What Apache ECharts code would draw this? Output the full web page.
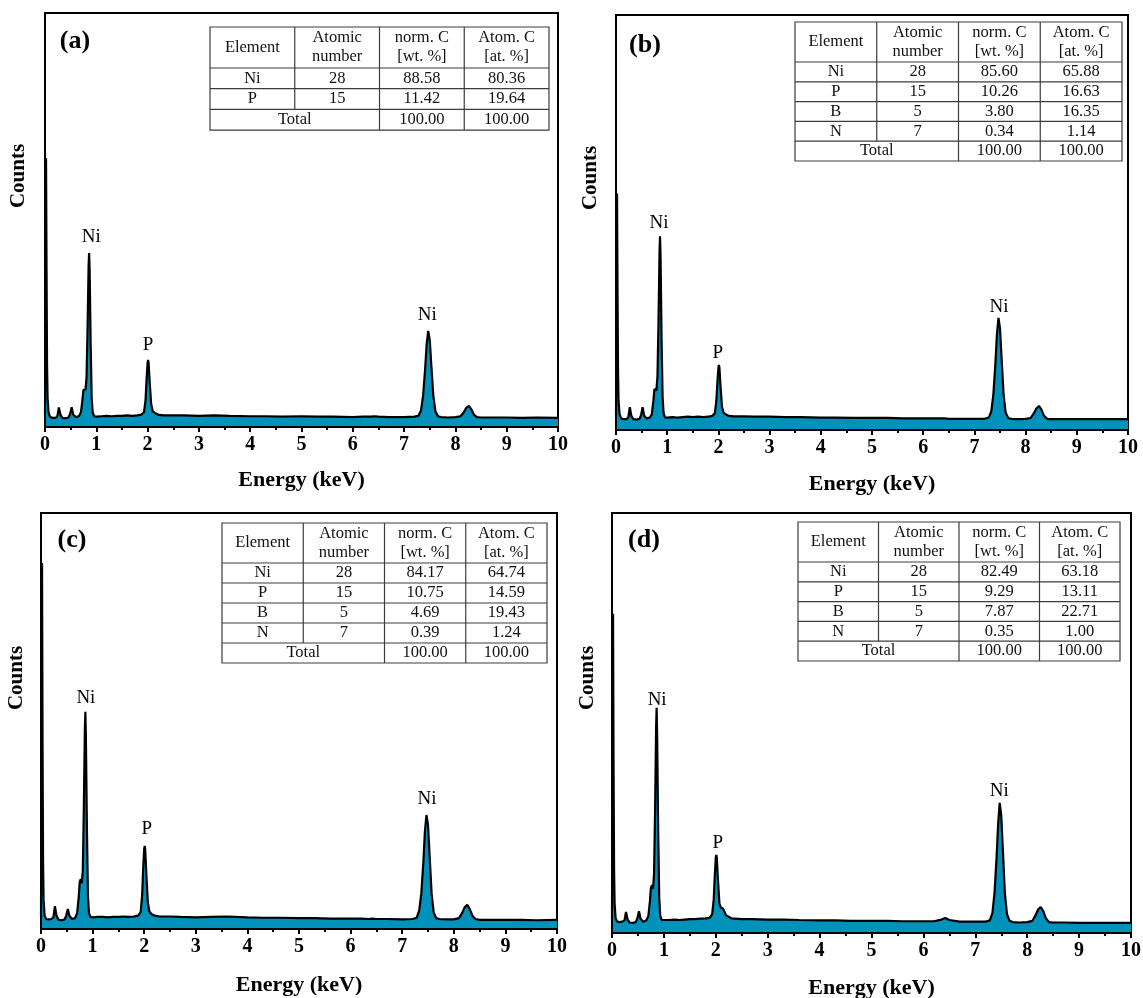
<!DOCTYPE html>
<html>
<head>
<meta charset="utf-8">
<title>EDS spectra</title>
<script src="https://cdn.jsdelivr.net/npm/echarts@6/dist/echarts.min.js"></script>
<style>
  html, body { margin: 0; padding: 0; background: #fff; }
  #main { width: 1143px; height: 998px; }
</style>
</head>
<body>
<div id="main"></div>
<script>
// energy grid shared by the four spectra (keV)
var energy = [
  0, 0.01, 0.02, 0.03, 0.04, 0.05, 0.07, 0.10, 0.15, 0.20,
  0.24, 0.27, 0.30, 0.34, 0.40, 0.46, 0.49, 0.52, 0.55, 0.60,
  0.66, 0.70, 0.73, 0.75, 0.77, 0.79, 0.81, 0.83, 0.85, 0.86,
  0.87, 0.89, 0.91, 0.93, 0.96, 1.00, 1.10, 1.20, 1.30, 1.40,
  1.50, 1.60, 1.70, 1.80, 1.88, 1.93, 1.96, 1.98, 2.00, 2.01,
  2.02, 2.04, 2.07, 2.10, 2.14, 2.20, 2.30, 2.50, 2.70, 3.00,
  3.30, 3.60, 4.00, 4.30, 4.60, 5.00, 5.30, 5.60, 6.00, 6.20,
  6.35, 6.42, 6.50, 6.70, 7.00, 7.20, 7.28, 7.33, 7.37, 7.41,
  7.44, 7.47, 7.50, 7.53, 7.57, 7.61, 7.66, 7.72, 7.85, 8.00,
  8.10, 8.16, 8.21, 8.26, 8.31, 8.36, 8.42, 8.50, 8.70, 9.00,
  9.30, 9.60, 10.00
];

// counts (arbitrary units, 0-100 of plot height)
var countsA = [
  3, 30, 65, 38, 15, 7, 3.5, 2.4, 2.2, 2.2,
  2.5, 4.7, 3.0, 2.2, 2.1, 2.3, 3.2, 4.8, 3.0, 2.4,
  2.6, 3.5, 6.5, 9.0, 9.4, 9.0, 12, 24, 39, 42,
  38, 20, 7, 3.5, 2.6, 2.5, 2.6, 2.7, 2.6, 2.7,
  2.7, 2.8, 2.7, 2.8, 3.0, 3.6, 6.5, 11.5, 15.5, 16.2,
  15.4, 11, 5.5, 3.8, 3.4, 3.0, 2.8, 2.8, 2.8, 2.7,
  2.8, 2.7, 2.6, 2.6, 2.5, 2.6, 2.5, 2.5, 2.4, 2.5,
  2.5, 2.6, 2.5, 2.4, 2.4, 2.5, 2.7, 4.0, 7.5, 14,
  20, 23.2, 21, 15, 7.5, 3.8, 2.6, 2.4, 2.3, 2.4,
  2.6, 3.5, 4.6, 5.1, 4.3, 3.0, 2.4, 2.3, 2.3, 2.3,
  2.2, 2.3, 2.2
];
var countsB = [
  3.3, 28, 57, 33, 14, 7, 3.8, 2.8, 2.6, 2.6,
  3.0, 5.5, 3.4, 2.6, 2.5, 2.7, 3.6, 5.5, 3.4, 2.8,
  3.0, 3.8, 7.0, 9.8, 10.1, 9.6, 13, 26, 43, 46.7,
  42, 22, 8, 4.0, 3.0, 3.0, 3.1, 3.0, 3.1, 3.2,
  3.1, 3.2, 3.1, 3.2, 3.4, 4.0, 7.0, 11.5, 15.0, 15.7,
  15.0, 10.8, 5.6, 4.2, 3.8, 3.4, 3.3, 3.3, 3.2, 3.2,
  3.1, 3.1, 3.0, 3.0, 2.9, 2.9, 2.9, 2.8, 2.8, 2.8,
  2.8, 2.8, 2.7, 2.7, 2.7, 2.7, 3.0, 4.5, 8.5, 16,
  23, 27, 24.5, 17.5, 8.5, 4.2, 2.9, 2.7, 2.6, 2.7,
  2.9, 4.0, 5.2, 5.8, 4.9, 3.4, 2.7, 2.6, 2.6, 2.6,
  2.6, 2.6, 2.6
];
var countsC = [
  3.0, 49, 88, 45, 16, 7, 3.2, 2.4, 2.3, 2.4,
  2.8, 5.5, 3.2, 2.2, 2.1, 2.3, 3.3, 4.8, 3.2, 2.4,
  2.6, 3.8, 7.5, 11.2, 12.0, 11.0, 14, 29, 48, 52.2,
  46, 24, 8, 3.8, 2.9, 2.8, 2.9, 2.9, 2.8, 2.9,
  2.9, 3.0, 2.9, 3.0, 3.2, 4.0, 8.0, 14.5, 19.2, 20.0,
  19.0, 13.5, 6.5, 4.2, 3.6, 3.2, 3.0, 3.0, 2.9, 2.8,
  2.9, 3.0, 2.8, 2.7, 2.7, 2.6, 2.6, 2.5, 2.5, 2.5,
  2.4, 2.5, 2.4, 2.4, 2.3, 2.4, 2.7, 4.5, 8.5, 16,
  23.5, 27.4, 25, 18, 8.5, 4.0, 2.6, 2.4, 2.3, 2.3,
  2.6, 3.8, 5.2, 5.8, 4.8, 3.2, 2.4, 2.2, 2.2, 2.2,
  2.2, 2.1, 2.2
];
var countsD = [
  3.3, 43, 76, 40, 15, 7, 3.5, 2.7, 2.6, 2.7,
  3.0, 5.0, 3.2, 2.5, 2.4, 2.6, 3.6, 5.2, 3.4, 2.7,
  3.0, 4.0, 7.5, 10.8, 11.4, 10.5, 14, 29, 49, 53.6,
  47, 24, 8.5, 4.0, 3.1, 3.1, 3.1, 3.2, 3.1, 3.2,
  3.3, 3.3, 3.4, 3.5, 3.6, 4.5, 8.0, 13.5, 18.0, 18.6,
  17.8, 13, 7.0, 6.0, 5.8, 4.2, 3.5, 3.3, 3.3, 3.2,
  3.2, 3.1, 3.0, 3.0, 2.9, 2.9, 2.9, 2.8, 2.8, 2.8,
  3.2, 3.6, 3.1, 2.7, 2.7, 2.7, 3.0, 4.8, 9.5, 18,
  26, 31, 28, 20, 9.5, 4.5, 2.9, 2.6, 2.5, 2.6,
  2.9, 4.2, 5.6, 6.2, 5.2, 3.5, 2.6, 2.5, 2.5, 2.4,
  2.4, 2.4, 2.4
];

// peak annotations: [energy, counts level, text]
var peaksA = [[0.90, 45.9, 'Ni'], [2.01, 19.8, 'P'], [7.45, 27.1, 'Ni']];
var peaksB = [[0.84, 49.9, 'Ni'], [1.99, 18.6, 'P'], [7.48, 29.6, 'Ni']];
var peaksC = [[0.87, 55.5, 'Ni'], [2.05, 24.0, 'P'], [7.48, 31.3, 'Ni']];
var peaksD = [[0.87, 55.5, 'Ni'], [2.04, 21.4, 'P'], [7.46, 33.8, 'Ni']];

// composition tables
var tableHeader = ['Element', 'Atomic\nnumber', 'norm. C\n[wt. %]', 'Atom. C\n[at. %]'];
var tableA = [['Ni', '28', '88.58', '80.36'], ['P', '15', '11.42', '19.64']];
var tableB = [['Ni', '28', '85.60', '65.88'], ['P', '15', '10.26', '16.63'], ['B', '5', '3.80', '16.35'], ['N', '7', '0.34', '1.14']];
var tableC = [['Ni', '28', '84.17', '64.74'], ['P', '15', '10.75', '14.59'], ['B', '5', '4.69', '19.43'], ['N', '7', '0.39', '1.24']];
var tableD = [['Ni', '28', '82.49', '63.18'], ['P', '15', '9.29', '13.11'], ['B', '5', '7.87', '22.71'], ['N', '7', '0.35', '1.00']];
var totalRow = ['Total', '100.00', '100.00'];

var panelTags = ['(a)', '(b)', '(c)', '(d)'];
var xName = 'Energy (keV)';
var yName = 'Counts';

var allCounts = [countsA, countsB, countsC, countsD];
var allPeaks = [peaksA, peaksB, peaksC, peaksD];
var allTables = [tableA, tableB, tableC, tableD];

// layout of the 2x2 figure (pixels)
var layout = [
  { grid: { left: 45, top: 13, width: 513, height: 414 }, nameGap: 42, tag: [75, 41], ylab: [19, 176],
    table: { x: 210, y: 27, colW: 84.75, headH: 41, rowH: 20.7 } },
  { grid: { left: 616, top: 15, width: 512, height: 415 }, nameGap: 43, tag: [645, 45], ylab: [591, 178],
    table: { x: 795, y: 22, colW: 81.75, headH: 40, rowH: 19.8 } },
  { grid: { left: 41, top: 513, width: 516, height: 416 }, nameGap: 45, tag: [72, 540], ylab: [17, 678],
    table: { x: 222, y: 523, colW: 81.25, headH: 40, rowH: 20 } },
  { grid: { left: 612, top: 513, width: 519, height: 420 }, nameGap: 44, tag: [644, 540], ylab: [588, 678],
    table: { x: 798, y: 522, colW: 80.5, headH: 40, rowH: 19.8 } }
];

var SERIF = "'Times New Roman', 'Liberation Serif', serif";
var FILL = '#0092ba';
var TABLE_LINE = '#3c3c3c';

function pairs(xs, ys) {
  return xs.map(function (x, i) { return [x, ys[i]]; });
}

function tableGraphic(t, rows) {
  var els = [];
  var n = rows.length;
  var w = t.colW * 4;
  var h = t.headH + t.rowH * (n + 1);
  var txt = function (x, y, s) {
    return {
      type: 'text', x: x, y: y, z: 10,
      style: { text: s, fill: '#111', fontFamily: SERIF, fontSize: 16.5, lineHeight: 19,
               align: 'center', verticalAlign: 'middle' }
    };
  };
  els.push({ type: 'rect', z: 9, shape: { x: t.x, y: t.y, width: w, height: h },
             style: { fill: '#fff', stroke: TABLE_LINE, lineWidth: 1.2 } });
  for (var r = 0; r <= n; r++) {
    var yy = t.y + t.headH + r * t.rowH;
    els.push({ type: 'line', z: 10, shape: { x1: t.x, y1: yy, x2: t.x + w, y2: yy },
               style: { stroke: TABLE_LINE, lineWidth: 1.2 } });
  }
  for (var c = 1; c < 4; c++) {
    var xx = t.x + c * t.colW;
    var yEnd = c === 1 ? t.y + t.headH + n * t.rowH : t.y + h;
    els.push({ type: 'line', z: 10, shape: { x1: xx, y1: t.y, x2: xx, y2: yEnd },
               style: { stroke: TABLE_LINE, lineWidth: 1.2 } });
  }
  tableHeader.forEach(function (s, c) {
    els.push(txt(t.x + (c + 0.5) * t.colW, t.y + t.headH / 2, s));
  });
  rows.forEach(function (row, r) {
    row.forEach(function (s, c) {
      els.push(txt(t.x + (c + 0.5) * t.colW, t.y + t.headH + (r + 0.5) * t.rowH, s));
    });
  });
  var ty = t.y + t.headH + (n + 0.5) * t.rowH;
  els.push(txt(t.x + t.colW, ty, totalRow[0]));
  els.push(txt(t.x + 2.5 * t.colW, ty, totalRow[1]));
  els.push(txt(t.x + 3.5 * t.colW, ty, totalRow[2]));
  return els;
}

var grids = [], xAxes = [], yAxes = [], series = [], graphics = [];

layout.forEach(function (p, i) {
  grids.push({
    left: p.grid.left, top: p.grid.top, width: p.grid.width, height: p.grid.height,
    show: true, borderColor: '#000', borderWidth: 2, backgroundColor: 'transparent',
    containLabel: false, outerBoundsMode: 'none'
  });
  xAxes.push({
    gridIndex: i, type: 'value', min: 0, max: 10, interval: 1,
    name: xName, nameLocation: 'middle', nameGap: p.nameGap,
    nameTextStyle: { fontFamily: SERIF, fontWeight: 'bold', fontSize: 22, color: '#000' },
    axisLine: { show: true, onZero: false, lineStyle: { color: '#000', width: 2 } },
    axisTick: { show: true, inside: false, length: 5, lineStyle: { color: '#000', width: 2 } },
    minorTick: { show: true, splitNumber: 2, length: 3, lineStyle: { color: '#000', width: 2 } },
    axisLabel: { fontFamily: SERIF, fontWeight: 'bold', fontSize: 20, color: '#000', margin: 8 },
    splitLine: { show: false },
    z: 3
  });
  yAxes.push({
    gridIndex: i, type: 'value', min: 0, max: 100,
    axisLine: { show: true, lineStyle: { color: '#000', width: 2 } },
    axisTick: { show: false }, axisLabel: { show: false }, splitLine: { show: false },
    z: 3
  });
  series.push({
    type: 'line', xAxisIndex: i, yAxisIndex: i,
    data: pairs(energy, allCounts[i]),
    symbol: 'none', smooth: false, silent: true,
    lineStyle: { color: '#000', width: 2.2 },
    areaStyle: { color: FILL, opacity: 1 },
    z: 2
  });
  series.push({
    type: 'scatter', xAxisIndex: i, yAxisIndex: i, silent: true,
    symbolSize: 1, itemStyle: { color: 'rgba(0,0,0,0)', opacity: 1 },
    data: allPeaks[i].map(function (pk) { return { name: pk[2], value: [pk[0], pk[1]] }; }),
    label: { show: true, position: 'inside', formatter: '{b}', opacity: 1,
             fontFamily: SERIF, fontSize: 19, color: '#000', textBorderWidth: 0 },
    z: 4
  });
  graphics.push({
    type: 'text', x: p.tag[0], y: p.tag[1], z: 10,
    style: { text: panelTags[i], fill: '#000', fontFamily: SERIF, fontWeight: 'bold', fontSize: 26,
             align: 'center', verticalAlign: 'middle' }
  });
  graphics.push({
    type: 'text', x: p.ylab[0], y: p.ylab[1], rotation: Math.PI / 2, z: 10,
    style: { text: yName, fill: '#000', fontFamily: SERIF, fontWeight: 'bold', fontSize: 21,
             align: 'center', verticalAlign: 'middle' }
  });
  graphics = graphics.concat(tableGraphic(p.table, allTables[i]));
});

var chart = echarts.init(document.getElementById('main'), null, { renderer: 'canvas' });
chart.setOption({
  backgroundColor: '#fff',
  animation: false,
  grid: grids,
  xAxis: xAxes,
  yAxis: yAxes,
  series: series,
  graphic: graphics
});
</script>
</body>
</html>
